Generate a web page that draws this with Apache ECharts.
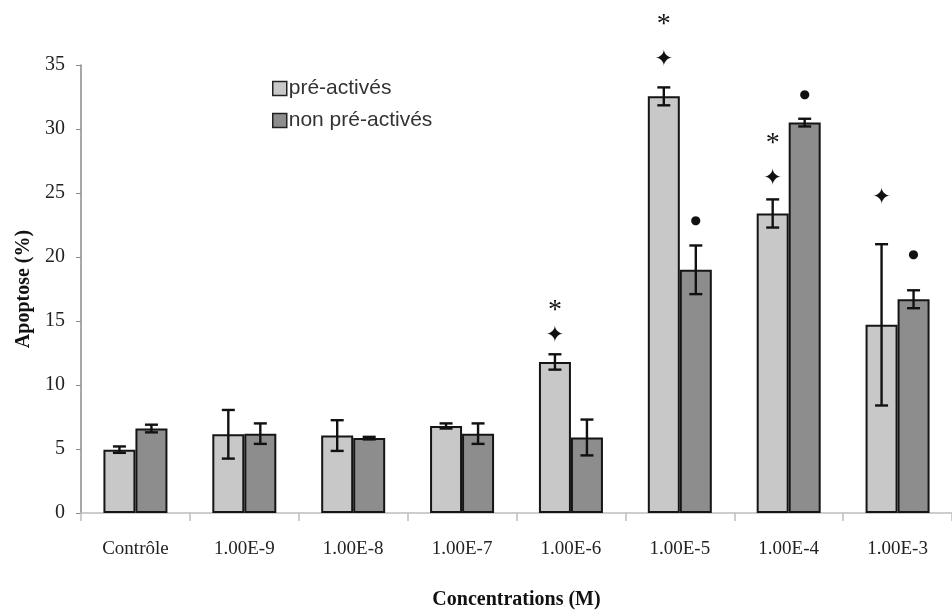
<!DOCTYPE html>
<html>
<head>
<meta charset="utf-8">
<script src="https://cdn.jsdelivr.net/npm/echarts@6/dist/echarts.min.js"></script>
<style>
  html, body { margin: 0; padding: 0; background: #fff; }
  #chart { width: 952px; height: 615px; }
</style>
</head>
<body>
<div id="chart"></div>
<script>
// Apoptosis (%) by concentration, pre-activated vs non pre-activated cells
const categories = ['Contrôle', '1.00E-9', '1.00E-8', '1.00E-7', '1.00E-6', '1.00E-5', '1.00E-4', '1.00E-3'];
const preActives = [4.95, 6.15, 6.05, 6.8, 11.8, 32.55, 23.4, 14.7];
const preActivesErr = [0.25, 1.9, 1.2, 0.2, 0.6, 0.7, 1.1, 6.3];
const nonPreActives = [6.6, 6.2, 5.85, 6.2, 5.9, 19.0, 30.5, 16.7];
const nonPreActivesErr = [0.3, 0.8, 0.1, 0.8, 1.4, 1.9, 0.3, 0.7];
const yTicks = { min: 0, max: 35, step: 5 };

// significance marks (height on the value axis, null = none)
const preStarAt = [null, null, null, null, 16.3, 38.6, 29.3, null];
const preCrossAt = [null, null, null, null, 13.85, 35.4, 26.1, 24.6];
const nonDotAt = [null, null, null, null, null, 22.85, 32.7, 20.2];

const SERIES_PRE = 'pré-activés';
const SERIES_NON = 'non pré-activés';
const BAR_W = 32;
const SERIF = '"Liberation Serif", "DejaVu Serif", serif';
const SANS = '"Liberation Sans", Arial, sans-serif';

function errorData(vals, errs) {
  return vals.map((v, i) => [i, v, errs[i]]);
}
function markData(arr) {
  return arr.map((v, i) => (v == null ? null : [i, v])).filter(d => d);
}

function errorRenderer(offset) {
  return function (params, api) {
    const i = api.value(0), v = api.value(1), e = api.value(2);
    const hi = api.coord([i, v + e]);
    const lo = api.coord([i, v - e]);
    const x = hi[0] + offset;
    const cap = 6.5;
    const style = { stroke: '#111', lineWidth: 2.4 };
    return {
      type: 'group',
      children: [
        { type: 'line', shape: { x1: x, y1: hi[1], x2: x, y2: lo[1] }, style },
        { type: 'line', shape: { x1: x - cap, y1: hi[1], x2: x + cap, y2: hi[1] }, style },
        { type: 'line', shape: { x1: x - cap, y1: lo[1], x2: x + cap, y2: lo[1] }, style }
      ]
    };
  };
}

// glyph drawn centred on (category, height); dy nudges glyphs that sit high in their em box
function markRenderer(offset, glyph, size, family, dy) {
  return function (params, api) {
    const p = api.coord([api.value(0), api.value(1)]);
    return {
      type: 'text',
      x: p[0] + offset,
      y: p[1] + dy,
      style: {
        text: glyph,
        fontSize: size,
        fontFamily: family,
        fill: '#111',
        align: 'center',
        verticalAlign: 'middle'
      }
    };
  };
}

const chart = echarts.init(document.getElementById('chart'), null, { renderer: 'canvas' });

chart.setOption({
  backgroundColor: '#ffffff',
  animation: false,
  grid: { left: 81, top: 65, width: 876, bottom: 95, containLabel: false },
  legend: {
    data: [SERIES_PRE, SERIES_NON],
    orient: 'vertical',
    left: 267,
    top: 73,
    itemWidth: 14,
    itemHeight: 14,
    itemGap: 11,
    icon: 'rect',
    selectedMode: false,
    itemStyle: { borderColor: '#222', borderWidth: 1.5 },
    textStyle: { fontFamily: SANS, fontSize: 21, color: '#333', padding: [0, 0, 0, -3] }
  },
  xAxis: {
    type: 'category',
    data: categories,
    name: 'Concentrations (M)',
    nameLocation: 'middle',
    nameGap: 77,
    nameTextStyle: { fontFamily: SERIF, fontSize: 20, fontWeight: 'bold', color: '#111' },
    axisLine: { show: true, lineStyle: { color: '#bdbdbd', width: 1.5 } },
    axisTick: { show: true, alignWithLabel: false, length: 8, lineStyle: { color: '#bdbdbd', width: 1.5 } },
    axisLabel: { fontFamily: SERIF, fontSize: 19, color: '#222', margin: 27 }
  },
  yAxis: {
    type: 'value',
    min: yTicks.min,
    max: yTicks.max,
    interval: yTicks.step,
    name: 'Apoptose (%)',
    nameLocation: 'middle',
    nameGap: 47,
    nameRotate: 90,
    nameTextStyle: { fontFamily: SERIF, fontSize: 20, fontWeight: 'bold', color: '#111' },
    axisLine: { show: true, lineStyle: { color: '#8a8a8a', width: 1.5 } },
    axisTick: { show: true, length: 5, lineStyle: { color: '#8a8a8a' } },
    axisLabel: { fontFamily: SERIF, fontSize: 20, color: '#222', margin: 16 },
    splitLine: { show: false }
  },
  series: [
    {
      name: SERIES_PRE,
      type: 'bar',
      data: preActives,
      barWidth: BAR_W,
      barGap: '0%',
      itemStyle: { color: '#c8c8c8', borderColor: '#151515', borderWidth: 2 }
    },
    {
      name: SERIES_NON,
      type: 'bar',
      data: nonPreActives,
      barWidth: BAR_W,
      barGap: '0%',
      itemStyle: { color: '#8d8d8d', borderColor: '#151515', borderWidth: 2 }
    },
    {
      type: 'custom',
      renderItem: errorRenderer(-BAR_W / 2),
      data: errorData(preActives, preActivesErr),
      z: 5, silent: true
    },
    {
      type: 'custom',
      renderItem: errorRenderer(BAR_W / 2),
      data: errorData(nonPreActives, nonPreActivesErr),
      z: 5, silent: true
    },
    {
      type: 'custom',
      renderItem: markRenderer(-BAR_W / 2, '*', 28, SERIF, 6),
      data: markData(preStarAt),
      clip: false, z: 6, silent: true
    },
    {
      type: 'custom',
      renderItem: markRenderer(-BAR_W / 2, '✦', 23, '"DejaVu Sans", sans-serif', 0),
      data: markData(preCrossAt),
      clip: false, z: 6, silent: true
    },
    {
      type: 'custom',
      renderItem: markRenderer(BAR_W / 2, '●', 12, '"DejaVu Sans", sans-serif', 0),
      data: markData(nonDotAt),
      clip: false, z: 6, silent: true
    }
  ]
});
</script>
</body>
</html>
